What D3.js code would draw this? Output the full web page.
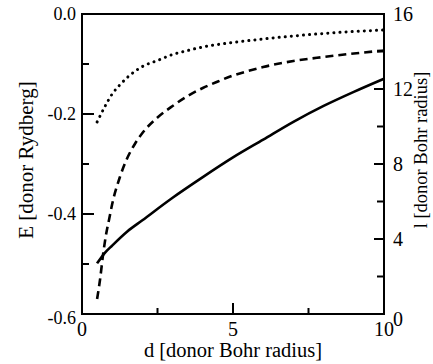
<!DOCTYPE html>
<html>
<head>
<meta charset="utf-8">
<script src="https://cdn.jsdelivr.net/npm/d3@7"></script>
<style>
  html, body { margin: 0; padding: 0; background: #fff; }
  svg { display: block; }
  svg text { font-family: "Liberation Serif", "DejaVu Serif", serif; fill: #000; }
</style>
</head>
<body>
<svg id="chart" width="433" height="364"></svg>
<script>
// separation d [donor Bohr radius]
const dDotted = [0.5, 0.75, 1, 1.25, 1.5, 2, 2.5, 3, 3.5, 4, 5, 6, 7, 8, 9, 10];
const eDotted = [-0.216, -0.186, -0.16, -0.142, -0.127, -0.105, -0.093, -0.081, -0.073, -0.066, -0.057, -0.05, -0.044, -0.039, -0.035, -0.032];

const dDashed = [0.5, 0.6, 0.7, 0.8, 0.9, 1, 1.25, 1.5, 1.75, 2, 2.5, 3, 3.5, 4, 4.5, 5, 5.5, 6, 7, 8, 9, 10];
const eDashed = [-0.57, -0.53, -0.48, -0.44, -0.41, -0.38, -0.327, -0.288, -0.26, -0.238, -0.207, -0.184, -0.164, -0.148, -0.135, -0.123, -0.114, -0.106, -0.094, -0.086, -0.079, -0.073];

// solid curve is read on the right axis (l)
const dSolid = [0.5, 0.75, 1, 1.5, 2, 3, 4, 5, 6, 7, 8, 9, 10];
const lSolid = [2.7, 3.25, 3.65, 4.4, 5.0, 6.2, 7.3, 8.35, 9.3, 10.25, 11.1, 11.85, 12.55];

const xMajor = [0, 5, 10];
const xMinor = [2.5, 7.5];
const eMajor = [-0.6, -0.4, -0.2, 0];
const eMinor = [-0.5, -0.3, -0.1];
const lMajor = [0, 4, 8, 12, 16];
const lMinor = [2, 6, 10, 14];

const svg = d3.select('#chart');
const margin = { left: 82, top: 14, right: 49, bottom: 50 };
const W = 433, H = 364;

const x = d3.scaleLinear().domain([0, 10]).range([margin.left, W - margin.right]);
const yE = d3.scaleLinear().domain([-0.6, 0]).range([H - margin.bottom, margin.top]);
const yL = d3.scaleLinear().domain([0, 16]).range([H - margin.bottom, margin.top]);

const bottom = H - margin.bottom, right = W - margin.right;

// curves
const drawCurve = (xs, ys, yScale, dash, width, cap) => {
  const pts = xs.map((v, i) => [v, ys[i]]);
  svg.append('path')
    .datum(pts)
    .attr('fill', 'none')
    .attr('stroke', '#000')
    .attr('stroke-width', width)
    .attr('stroke-dasharray', dash)
    .attr('stroke-linecap', cap)
    .attr('d', d3.line().curve(d3.curveMonotoneX).x(d => x(d[0])).y(d => yScale(d[1])));
};
drawCurve(dDotted, eDotted, yE, '0.1 6', 3, 'round');
drawCurve(dDashed, eDashed, yE, '8 5', 2.6, 'butt');
drawCurve(dSolid, lSolid, yL, null, 2.6, 'butt');

// ticks (pointing inward)
const tick = (data, fn) => svg.append('g').selectAll('line').data(data).enter().append('line')
  .attr('stroke', '#000').attr('stroke-width', 2).each(function(d) { fn(d3.select(this), d); });

tick(xMajor, (s, d) => s.attr('x1', x(d)).attr('x2', x(d)).attr('y1', bottom).attr('y2', bottom - 11));
tick(xMinor, (s, d) => s.attr('x1', x(d)).attr('x2', x(d)).attr('y1', bottom).attr('y2', bottom - 6));
tick(eMajor, (s, d) => s.attr('x1', margin.left).attr('x2', margin.left + 12).attr('y1', yE(d)).attr('y2', yE(d)));
tick(eMinor, (s, d) => s.attr('x1', margin.left).attr('x2', margin.left + 7).attr('y1', yE(d)).attr('y2', yE(d)));
tick(lMajor, (s, d) => s.attr('x1', right).attr('x2', right - 10).attr('y1', yL(d)).attr('y2', yL(d)));
tick(lMinor, (s, d) => s.attr('x1', right).attr('x2', right - 7).attr('y1', yL(d)).attr('y2', yL(d)));

// frame
svg.append('rect')
  .attr('x', margin.left).attr('y', margin.top)
  .attr('width', right - margin.left).attr('height', bottom - margin.top)
  .attr('fill', 'none').attr('stroke', '#000').attr('stroke-width', 2);

// tick labels
svg.append('g').selectAll('text').data(xMajor).enter().append('text')
  .attr('x', d => x(d)).attr('y', bottom + 22)
  .attr('text-anchor', 'middle').attr('font-size', 20)
  .text(d => d);

svg.append('g').selectAll('text').data(eMajor).enter().append('text')
  .attr('x', margin.left - 6).attr('y', d => yE(d) + (d === eMajor[0] ? 10 : 6))
  .attr('text-anchor', 'end').attr('font-size', 18)
  .text(d => d.toFixed(1));

svg.append('g').selectAll('text').data(lMajor).enter().append('text')
  .attr('x', right + 9).attr('y', d => yL(d) + (d === lMajor[0] ? 12 : 7))
  .attr('text-anchor', 'start').attr('font-size', 20)
  .text(d => d);

// axis titles
svg.append('text')
  .attr('transform', `translate(33,${(margin.top + bottom) / 2 - 4}) rotate(-90)`)
  .attr('text-anchor', 'middle').attr('font-size', 21)
  .text('E [donor Rydberg]');

svg.append('text')
  .attr('transform', `translate(427,${(margin.top + bottom) / 2 - 14}) rotate(-90)`)
  .attr('text-anchor', 'middle').attr('font-size', 18.5)
  .text('l [donor Bohr radius]');

svg.append('text')
  .attr('x', (margin.left + right) / 2).attr('y', 357)
  .attr('text-anchor', 'middle').attr('font-size', 20.5)
  .text('d [donor Bohr radius]');
</script>
</body>
</html>
